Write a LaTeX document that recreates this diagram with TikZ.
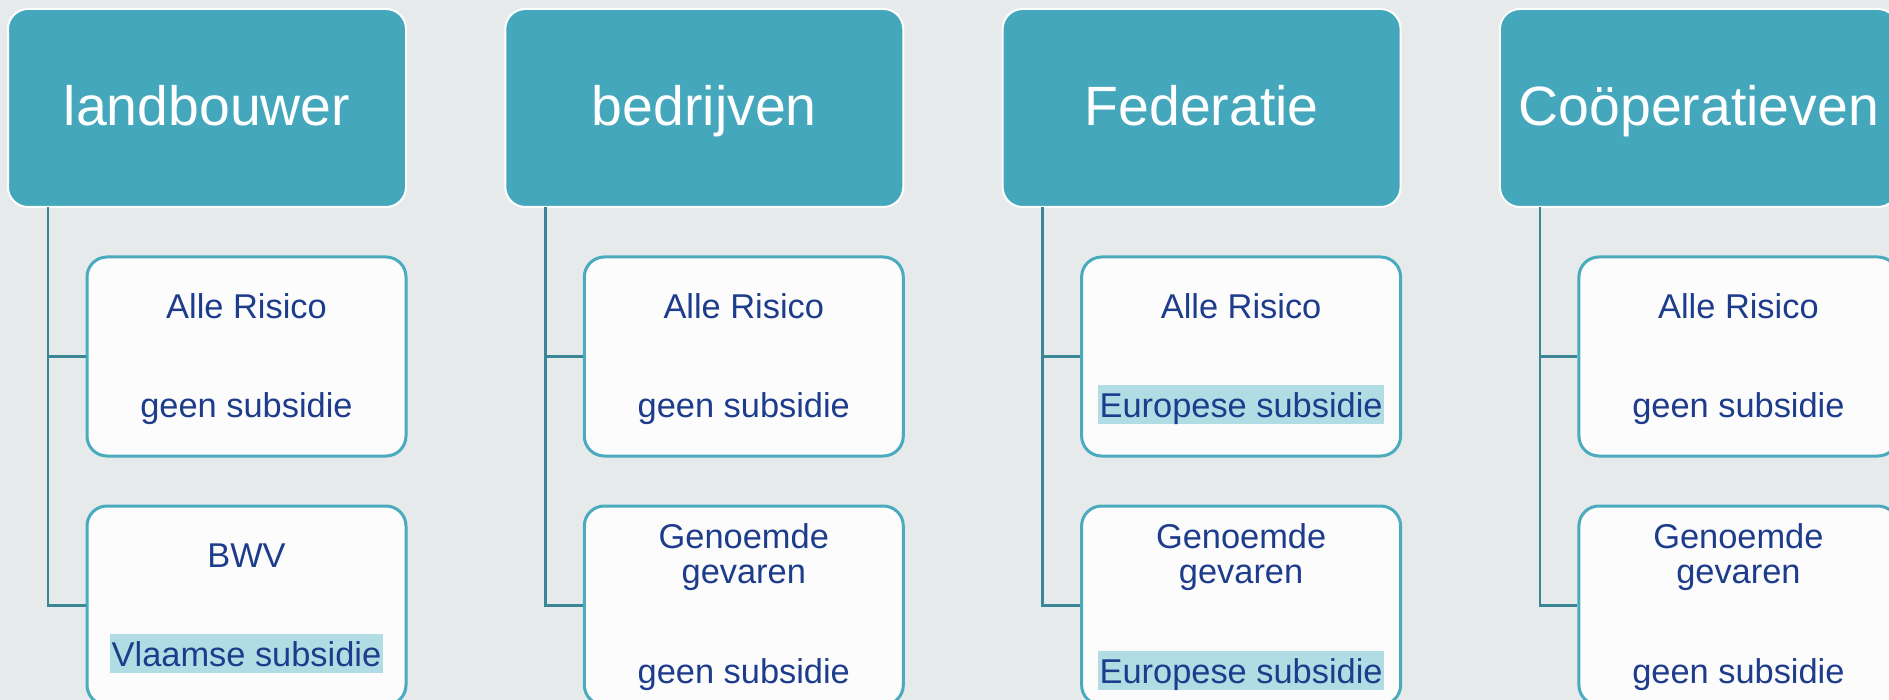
\documentclass[tikz,border=0pt]{standalone}
\usepackage{fontspec}
\setmainfont{Liberation Sans}
\definecolor{bgc}{RGB}{230,234,235}
\definecolor{hdrfill}{RGB}{68,167,188}
\definecolor{boxline}{RGB}{74,170,190}
\definecolor{boxfill}{RGB}{252,252,252}
\definecolor{txtblue}{RGB}{30,60,140}
\definecolor{hlc}{RGB}{178,220,228}
\definecolor{connc}{RGB}{58,134,150}
\tikzset{
  hdrbox/.style={rectangle, rounded corners=10pt, fill=hdrfill, draw=white, line width=1pt,
    minimum width=199pt, minimum height=99pt, inner sep=0pt},
  hdrtext/.style={anchor=base, text=white, inner sep=0pt, font=\fontsize{27.7}{33}\selectfont},
  childbox/.style={rectangle, rounded corners=10pt, fill=boxfill, draw=boxline, line width=1.5pt,
    minimum width=159.5pt, minimum height=99.5pt, inner sep=0pt},
  ctext/.style={anchor=base, text=txtblue, inner sep=0pt, align=center,
    font=\fontsize{17.2}{17.5}\selectfont},
  hltext/.style={ctext, fill=hlc, inner xsep=0.6pt, inner ysep=0pt, text height=16pt, text depth=3.5pt},
  conn/.style={draw=connc, line width=1.2pt}
}
\begin{document}
\begin{tikzpicture}[x=0.5pt, y={(0pt,-0.5pt)}]
\fill[bgc] (0,0) rectangle (1889,700);
\useasboundingbox (0,0) rectangle (1889,700);
\begin{scope}
\clip (0,0) rectangle (1889,700);
% column 1
\node[hdrbox] (h1) at (207,108) {};
\node[hdrtext] (h1t) at (207,126) {landbouwer};
\node[childbox] (a1) at (246.5,356.5) {};
\node[childbox] (b1) at (246.5,605.5) {};
\coordinate (s1) at (48,207);
\draw[conn] (s1) |- (b1.west);
\draw[conn] (s1 |- a1.west) -- (a1.west);
\node[ctext] (a1t) at (246.5,318) {Alle Risico};
\node[ctext] (a1s) at (246.5,417) {geen subsidie};
\node[ctext] (b1t) at (246.5,567) {BWV};
\node[hltext] (b1s) at (246.5,666) {Vlaamse subsidie};
% column 2
\node[hdrbox] (h2) at (704.3,108) {};
\node[hdrtext] (h2t) at (704.3,126) {bedrijven};
\node[childbox] (a2) at (743.8,356.5) {};
\node[childbox] (b2) at (743.8,605.5) {};
\coordinate (s2) at (545.3,207);
\draw[conn] (s2) |- (b2.west);
\draw[conn] (s2 |- a2.west) -- (a2.west);
\node[ctext] (a2t) at (743.8,318) {Alle Risico};
\node[ctext] (a2s) at (743.8,417) {geen subsidie};
\node[ctext] (b2t) at (743.8,583) {Genoemde\\gevaren};
\node[ctext] (b2s) at (743.8,683) {geen subsidie};
% column 3
\node[hdrbox] (h3) at (1201.6,108) {};
\node[hdrtext] (h3t) at (1201.6,126) {Federatie};
\node[childbox] (a3) at (1241.1,356.5) {};
\node[childbox] (b3) at (1241.1,605.5) {};
\coordinate (s3) at (1042.6,207);
\draw[conn] (s3) |- (b3.west);
\draw[conn] (s3 |- a3.west) -- (a3.west);
\node[ctext] (a3t) at (1241.1,318) {Alle Risico};
\node[hltext] (a3s) at (1241.1,417) {Europese subsidie};
\node[ctext] (b3t) at (1241.1,583) {Genoemde\\gevaren};
\node[hltext] (b3s) at (1241.1,683) {Europese subsidie};
% column 4
\node[hdrbox] (h4) at (1698.9,108) {};
\node[hdrtext] (h4t) at (1698.9,126) {Coöperatieven};
\node[childbox] (a4) at (1738.4,356.5) {};
\node[childbox] (b4) at (1738.4,605.5) {};
\coordinate (s4) at (1539.9,207);
\draw[conn] (s4) |- (b4.west);
\draw[conn] (s4 |- a4.west) -- (a4.west);
\node[ctext] (a4t) at (1738.4,318) {Alle Risico};
\node[ctext] (a4s) at (1738.4,417) {geen subsidie};
\node[ctext] (b4t) at (1738.4,583) {Genoemde\\gevaren};
\node[ctext] (b4s) at (1738.4,683) {geen subsidie};
\end{scope}
\end{tikzpicture}
\end{document}
